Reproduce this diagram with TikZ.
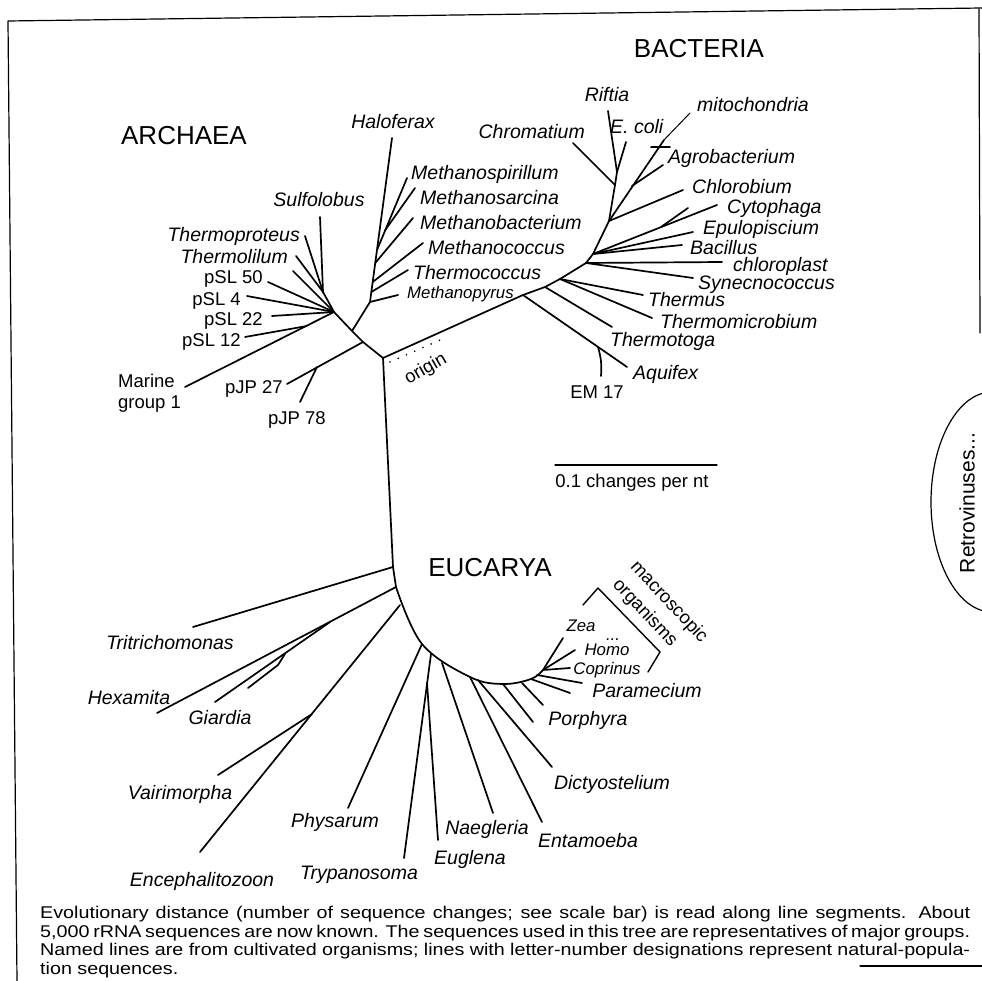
\documentclass[tikz,border=0pt]{standalone}
\usepackage{fontspec}
\setmainfont{Liberation Sans}
\newfontfamily\widesans[FakeStretch=1.16]{Liberation Sans}
\usetikzlibrary{positioning}

\begin{document}
\begin{tikzpicture}[
  x=1pt, y=-1pt,
  line cap=round, line join=round,
  branch/.style={line width=1.7pt},
  twig/.style={line width=1pt},
  rim/.style={line width=1.2pt},
  taxon/.style={font=\fontsize{19.5}{21}\selectfont\itshape, inner sep=0pt, text height=14pt, text depth=0pt},
  minitaxon/.style={font=\fontsize{16.8}{19}\selectfont\itshape, inner sep=0pt, text height=12pt, text depth=0pt},
  clone/.style={font=\fontsize{18.5}{20}\selectfont, inner sep=0pt, text height=13pt, text depth=0pt},
  realm/.style={font=\fontsize{26}{28}\selectfont, inner sep=0pt, text height=18.7pt, text depth=0pt},
  captext/.style={font=\widesans\fontsize{17}{18.7}\selectfont, inner sep=0pt, anchor=north west}
]
\useasboundingbox (0,0) rectangle (982,981);

\draw[rim] (17,981) -- (8,21) -- (982,8);
\draw[rim] (979,9) -- (980,333);
\draw[rim] (860,966) -- (982,966);

\node[realm] (archaea) at (184,135) {ARCHAEA};
\node[realm] (bacteria) at (699,48) {BACTERIA};
\node[realm] (eucarya) at (490,567) {EUCARYA};

\coordinate (root) at (383,358);
\coordinate (aJP) at (363,342);
\coordinate (aEury) at (352,331);
\coordinate (aCren) at (334,312);
\draw[branch] (root) -- (aJP) -- (aEury) -- (aCren);

\coordinate (aJP78) at (317,367);
\coordinate (tJP27) at (287,384);
\coordinate (tJP78) at (300,402);
\draw[branch] (aJP) -- (tJP27);
\draw[branch] (aJP78) -- (tJP78);
\node[clone, anchor=east] (lJP27) at (283,387) {pJP 27};
\node[clone] (lJP78) at (297,418) {pJP 78};

\coordinate (eury0) at (370,302);
\coordinate (tHalo) at (392,138);
\coordinate (jTcoc) at (371.3,292);
\coordinate (jMcoc) at (372.7,282);
\coordinate (jMbac) at (375.2,263);
\coordinate (jMspi) at (377,250);
\coordinate (jMsar) at (385.3,230);
\coordinate (tMpyr) at (398,295);
\coordinate (tTcoc) at (408,270);
\coordinate (tMcoc) at (423,243);
\coordinate (tMbac) at (413,218);
\coordinate (tMspi) at (407,178);
\coordinate (tMsar) at (415,188);
\draw[branch] (aEury) -- (eury0) -- (tHalo);
\draw[branch] (eury0) -- (tMpyr);
\draw[branch] (jTcoc) -- (tTcoc);
\draw[branch] (jMcoc) -- (tMcoc);
\draw[branch] (jMbac) -- (tMbac);
\draw[branch] (jMspi) -- (tMspi);
\draw[branch] (jMsar) -- (tMsar);
\node[taxon] (lHalo) at (393,122) {Haloferax};
\node[taxon, anchor=west] (lMspi) at (411,173) {Methanospirillum};
\node[taxon, anchor=west] (lMsar) at (420,198) {Methanosarcina};
\node[taxon, anchor=west] (lMbac) at (420,223) {Methanobacterium};
\node[taxon, anchor=west] (lMcoc) at (428,248) {Methanococcus};
\node[taxon, anchor=west] (lTcoc) at (413,273) {Thermococcus};
\node[minitaxon, anchor=west] (lMpyr) at (407,293) {Methanopyrus};

\coordinate (cSul) at (323,292);
\coordinate (tSul) at (320,217);
\coordinate (tTpro) at (305,236);
\coordinate (tTlil) at (296,256);
\coordinate (tUnl) at (293,271);
\coordinate (tS50) at (268,282);
\coordinate (tS4) at (247,296);
\coordinate (tS22) at (272,316);
\coordinate (jS12) at (307,326);
\coordinate (tS12) at (245,337);
\coordinate (tMar) at (185,387);
\draw[branch] (aCren) -- (cSul) -- (tSul);
\draw[branch] (cSul) -- (tTpro);
\draw[branch] (cSul) -- (tTlil);
\draw[branch] (aCren) -- (tUnl);
\draw[branch] (aCren) -- (tS50);
\draw[branch] (aCren) -- (tS4);
\draw[branch] (aCren) -- (tS22);
\draw[branch] (aCren) -- (tMar);
\draw[branch] (jS12) -- (tS12);
\node[taxon] (lSul) at (319,200) {Sulfolobus};
\node[taxon, anchor=east] (lTpro) at (300,235) {Thermoproteus};
\node[taxon, anchor=east] (lTlil) at (288,257) {Thermolilum};
\node[clone, anchor=east] (lS50) at (263,277) {pSL 50};
\node[clone, anchor=east] (lS4) at (241,299) {pSL 4};
\node[clone, anchor=east] (lS22) at (263,319) {pSL 22};
\node[clone, anchor=east] (lS12) at (241,340) {pSL 12};
\node[font=\fontsize{18.5}{21}\selectfont, inner sep=0pt, align=left, anchor=west] (lMar) at (118,393) {Marine\\group 1};

\coordinate (o1) at (390,362);
\coordinate (o2) at (447,337);
\draw[line width=1.8pt, dash pattern=on 0pt off 9pt] (o1) -- (o2);
\node[clone, rotate=30] (lOrigin) at (425,368) {origin};

\coordinate (b1) at (523,295);
\coordinate (b2) at (545,287);
\coordinate (b3) at (560,279);
\coordinate (b4) at (586,263);
\coordinate (b5) at (593,254);
\coordinate (b6) at (609,221);
\coordinate (b7) at (615,185);
\coordinate (b8) at (617,172);
\draw[branch] (root) -- (b1) -- (b2) -- (b3) -- (b4) -- (b5) -- (b6) -- (b7) -- (b8);

\coordinate (tAqu) at (627,367);
\coordinate (jEM) at (598,347);
\coordinate (tEM) at (601,376);
\coordinate (tTtog) at (612,327);
\coordinate (tTmus) at (643,295);
\coordinate (tTmic) at (652,318);
\coordinate (tChlp) at (722,262);
\coordinate (tSyn) at (693,278);
\coordinate (tBac) at (682,245);
\coordinate (tEpu) at (693,232);
\coordinate (tCyt) at (717,205);
\coordinate (jCyt) at (661,227);
\coordinate (tCyt2) at (688,208);
\coordinate (tChlb) at (683,190);
\coordinate (jAgr) at (632,186);
\coordinate (tAgr) at (663,165);
\coordinate (jMit) at (664,140);
\coordinate (tMit) at (690,113);
\coordinate (k1Mit) at (651,147);
\coordinate (k2Mit) at (670,147);
\coordinate (tChro) at (573,143);
\coordinate (tRif) at (608,111);
\coordinate (tEco) at (626,142);
\draw[branch] (b1) -- (tAqu);
\draw[branch] (jEM) to[bend left=10] (tEM);
\draw[branch] (b2) -- (tTtog);
\draw[branch] (b3) -- (tTmus);
\draw[branch] (b3) -- (tTmic);
\draw[branch] (b4) -- (tChlp);
\draw[branch] (b4) -- (tSyn);
\draw[branch] (b5) -- (tBac);
\draw[branch] (b5) -- (tEpu);
\draw[branch] (b5) -- (tCyt);
\draw[branch] (jCyt) -- (tCyt2);
\draw[branch] (b6) -- (tChlb);
\draw[branch] (b6) -- (jMit);
\draw[twig] (jMit) -- (tMit);
\draw[branch] (k1Mit) -- (k2Mit);
\draw[branch] (jAgr) -- (tAgr);
\draw[branch] (b7) -- (tChro);
\draw[branch] (b8) -- (tRif);
\draw[branch] (b8) -- (tEco);
\node[taxon] (lRif) at (607,95) {Riftia};
\node[taxon, anchor=west] (lEco) at (610,127) {E. coli};
\node[taxon, anchor=west] (lMit) at (697,105) {mitochondria};
\node[taxon, anchor=east] (lChro) at (585,132) {Chromatium};
\node[taxon, anchor=west] (lAgr) at (668,157) {Agrobacterium};
\node[taxon, anchor=west] (lChlb) at (692,187) {Chlorobium};
\node[taxon, anchor=west] (lCyt) at (727,207) {Cytophaga};
\node[taxon, anchor=west] (lEpu) at (703,228) {Epulopiscium};
\node[taxon, anchor=west] (lBac) at (690,248) {Bacillus};
\node[taxon, anchor=west] (lChlp) at (733,265) {chloroplast};
\node[taxon, anchor=west] (lSyn) at (698,283) {Synecnococcus};
\node[taxon, anchor=west] (lTmus) at (648,300) {Thermus};
\node[taxon, anchor=west] (lTmic) at (660,322) {Thermomicrobium};
\node[taxon, anchor=west] (lTtog) at (610,340) {Thermotoga};
\node[taxon, anchor=west] (lAqu) at (633,372) {Aquifex};
\node[clone] (lEM) at (597,392) {EM 17};

\coordinate (sL) at (555,465);
\coordinate (sR) at (717,465);
\draw[line width=1.2pt] (sL) -- (sR);
\node[clone] (lScale) at (632,481) {0.1 changes per nt};

\coordinate (e1) at (393,567);
\coordinate (e2) at (396,587);
\coordinate (e3) at (400,605);
\coordinate (e4) at (422,644);
\coordinate (e5) at (431,654);
\coordinate (e6) at (442,663);
\coordinate (e7) at (470,677);
\coordinate (e8) at (478,680);
\coordinate (e9) at (503,684);
\coordinate (e10) at (522,683);
\coordinate (e11) at (531,679);
\coordinate (e12) at (537,675);
\coordinate (e13) at (543,670);
\draw[branch] (root) -- (e1) -- (e2);
\draw[branch] plot[smooth, tension=0.6] coordinates {(e2) (e4) (e7) (e9) (e11) (e13)};

\coordinate (tTri) at (193,627);
\coordinate (tHex) at (157,713);
\coordinate (jGia) at (330,622);
\coordinate (tGia) at (215,702);
\coordinate (jGia2) at (285,654);
\coordinate (kGia2) at (278,665);
\coordinate (tGia2) at (248,688);
\coordinate (tEnc) at (200,852);
\coordinate (jVai) at (312,714);
\coordinate (tVai) at (218,775);
\coordinate (tPhy) at (348,808);
\coordinate (tTry) at (404,858);
\coordinate (jEug) at (427,683);
\coordinate (tEug) at (438,840);
\coordinate (tNae) at (493,813);
\coordinate (tEnt) at (542,822);
\coordinate (tDic) at (552,767);
\coordinate (tPor) at (533,722);
\coordinate (tPor2) at (543,705);
\coordinate (tPar2) at (570,693);
\coordinate (tPar) at (582,683);
\coordinate (tZea) at (563,638);
\coordinate (tHom) at (575,650);
\coordinate (tCop) at (570,668);
\draw[branch] (e1) -- (tTri);
\draw[branch] (e2) -- (tHex);
\draw[branch] (jGia) -- (tGia);
\draw[branch] (jGia2) -- (kGia2) -- (tGia2);
\draw[branch] (e3) -- (tEnc);
\draw[branch] (jVai) -- (tVai);
\draw[branch] (e4) -- (tPhy);
\draw[branch] (e5) -- (tTry);
\draw[branch] (jEug) -- (tEug);
\draw[branch] (e6) -- (tNae);
\draw[branch] (e7) -- (tEnt);
\draw[branch] (e8) -- (tDic);
\draw[branch] (e9) -- (tPor);
\draw[branch] (e10) -- (tPor2);
\draw[branch] (e11) -- (tPar2);
\draw[branch] (e12) -- (tPar);
\draw[branch] (e13) -- (tZea);
\draw[branch] (e13) -- (tHom);
\draw[branch] (e13) -- (tCop);
\node[taxon] (lTri) at (170,642) {Tritrichomonas};
\node[taxon] (lHex) at (129,697) {Hexamita};
\node[taxon] (lGia) at (220,717) {Giardia};
\node[taxon] (lVai) at (180,792) {Vairimorpha};
\node[taxon] (lPhy) at (335,820) {Physarum};
\node[taxon] (lEnc) at (202,879) {Encephalitozoon};
\node[taxon] (lTry) at (359,872) {Trypanosoma};
\node[taxon] (lEug) at (470,857) {Euglena};
\node[taxon] (lNae) at (487,827) {Naegleria};
\node[taxon] (lEnt) at (588,840) {Entamoeba};
\node[taxon] (lDic) at (612,782) {Dictyostelium};
\node[taxon] (lPor) at (588,718) {Porphyra};
\node[taxon] (lPar) at (647,690) {Paramecium};
\node[minitaxon] (lZea) at (581,625) {Zea};
\node[minitaxon] (lDots) at (613,634) {...};
\node[minitaxon] (lHom) at (607,649) {Homo};
\node[minitaxon] (lCop) at (607,668) {Coprinus};

\coordinate (k1) at (583,605);
\coordinate (k2) at (598,588);
\coordinate (k3) at (660,652);
\coordinate (k4) at (648,672);
\draw[line width=1.4pt] (k1) -- (k2) -- (k3) -- (k4);
\node[clone, rotate=-47] (lMacro) at (670,601) {macroscopic};
\node[clone, rotate=-47] (lOrgan) at (646,612) {organisms};

\draw[rim] (992,502) ellipse [x radius=61, y radius=110];
\node[font=\fontsize{21}{24}\selectfont, inner sep=0pt, rotate=90] (lRetro) at (967,503) {Retrovinuses...};

\node[captext] (caption) at (40,906) {\parbox{930pt}{Evolutionary distance (number of sequence changes; see scale bar) is read along line segments. About\linebreak 5,000 rRNA sequences are now known. The sequences used in this tree are representatives of major groups.\linebreak Named lines are from cultivated organisms; lines with letter-number designations represent natural-popula-\linebreak tion sequences.}};
\end{tikzpicture}
\end{document}
